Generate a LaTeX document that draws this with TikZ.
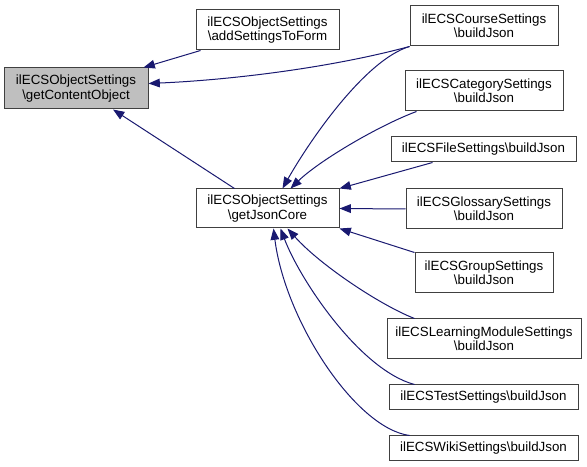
\documentclass[tikz,border=0pt]{standalone}
\usepackage{fontspec}
\setmainfont{Liberation Sans}
\usetikzlibrary{arrows.meta,calc}
\definecolor{edgeblue}{HTML}{191970}
\definecolor{boxline}{HTML}{404040}
\definecolor{boxgray}{HTML}{BFBFBF}
\begin{document}
\begin{tikzpicture}[x=0.75pt,y=-0.75pt,
  box/.style={draw=boxline,line width=0.75pt,inner sep=0pt,align=center,
    font=\fontsize{10}{10.8}\selectfont},
  wh/.style 2 args={minimum width=#1*0.75pt,minimum height=#2*0.75pt},
  edge/.style={draw=edgeblue,line width=0.75pt,
    -{Triangle[length=8.5pt,width=6.5pt,fill=edgeblue]}}]
\useasboundingbox (0,0) rectangle (587,467);
% nodes
\node[box,fill=boxgray,wh={144}{41}] (gco) at (76,88.5) {ilECSObjectSettings\\\textbackslash getContentObject};
\node[box,wh={143}{40}] (add) at (267.5,30) {ilECSObjectSettings\\\textbackslash addSettingsToForm};
\node[box,wh={143}{39}] (json) at (267.5,208.5) {ilECSObjectSettings\\\textbackslash getJsonCore};
\node[box,wh={148}{40}] (course) at (484,26) {ilECSCourseSettings\\\textbackslash buildJson};
\node[box,wh={158}{40}] (cat) at (484,91) {ilECSCategorySettings\\\textbackslash buildJson};
\node[box,wh={185}{25}] (file) at (483.5,149.5) {ilECSFileSettings\textbackslash buildJson};
\node[box,wh={156}{40}] (gloss) at (484,209) {ilECSGlossarySettings\\\textbackslash buildJson};
\node[box,wh={138}{40}] (group) at (484,273) {ilECSGroupSettings\\\textbackslash buildJson};
\node[box,wh={194}{40}] (lm) at (484,339) {ilECSLearningModuleSettings\\\textbackslash buildJson};
\node[box,wh={189}{25}] (test) at (483.5,397.5) {ilECSTestSettings\textbackslash buildJson};
\node[box,wh={189}{25}] (wiki) at (483.5,448.5) {ilECSWikiSettings\textbackslash buildJson};
% edges
\draw[edge] ($(add.south west)+(5,0)$) -- ($(gco.north east)+(-5,0)$);
\draw[edge] (course.south west) .. controls (330,68) and (230,80) .. ($(gco.east)+(0,-5)$);
\draw[edge] (course.south west) .. controls (365,60) and (310,140) .. ($(json.north)+(15,0)$);
\draw[edge] ($(cat.south west)+(12,0)$) .. controls (380,125) and (320,160) .. ($(json.north)+(23,0)$);
\draw[edge] ($(json.north west)+(39,0)$) -- ($(gco.south)+(37,0)$);
\draw[edge] ($(file.south west)+(42,0)$) -- (json.north east);
\draw[edge] (gloss.west) -- (json.east);
\draw[edge] (group.north west) -- (json.south east);
\draw[edge] ($(lm.north west)+(28,0)$) .. controls (380,305) and (320,265) .. ($(json.south)+(20,0)$);
\draw[edge] ($(test.north west)+(26,0)$) .. controls (360,370) and (300,280) .. ($(json.south)+(13,0)$);
\draw[edge] ($(wiki.north west)+(21,0)$) .. controls (355,428) and (285,320) .. ($(json.south)+(6,0)$);
\end{tikzpicture}
\end{document}
